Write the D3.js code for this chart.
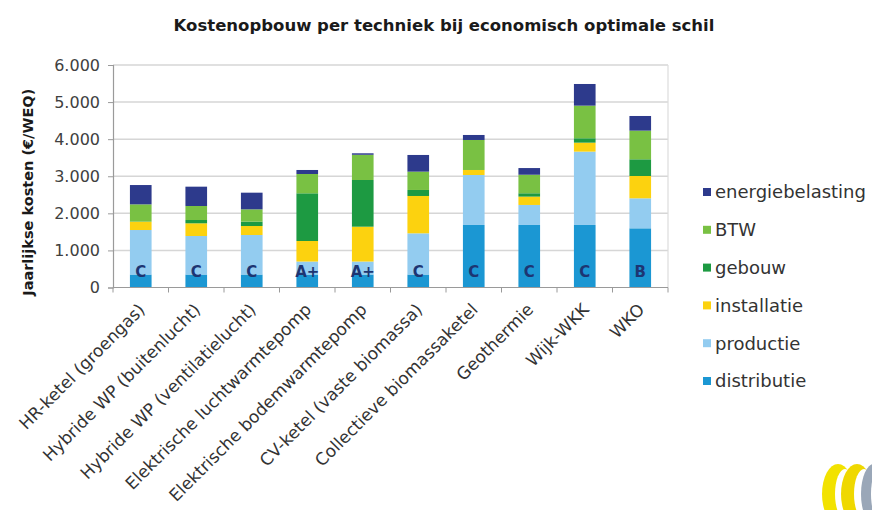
<!DOCTYPE html>
<html>
<head>
<meta charset="utf-8">
<script src="https://cdn.jsdelivr.net/npm/d3@7"></script>
<style>
  html, body { margin: 0; padding: 0; background: #ffffff; }
  svg { display: block; }
</style>
</head>
<body>
<script>
// Kostenopbouw per techniek — gestapelde kolommen (€/WEQ per jaar)
const categories = [
  "HR-ketel (groengas)",
  "Hybride WP (buitenlucht)",
  "Hybride WP (ventilatielucht)",
  "Elektrische luchtwarmtepomp",
  "Elektrische bodemwarmtepomp",
  "CV-ketel (vaste biomassa)",
  "Collectieve biomassaketel",
  "Geothermie",
  "Wijk-WKK",
  "WKO"
];
const distributie      = [350, 350, 350, 350, 350, 350, 1686, 1686, 1686, 1596];
const productie        = [1200, 1039, 1066, 350, 350, 1111, 1348, 540, 1978, 809];
const installatie      = [224, 342, 242, 554, 940, 1007, 135, 225, 242, 602];
const gebouw           = [0, 89, 117, 1286, 1259, 162, 0, 90, 118, 450];
const btw              = [468, 378, 333, 521, 680, 494, 809, 500, 880, 773];
const energiebelasting = [521, 521, 449, 108, 40, 450, 135, 180, 584, 395];
const energielabels    = ["C", "C", "C", "A+", "A+", "C", "C", "C", "C", "B"];
const yTicks           = [0, 1000, 2000, 3000, 4000, 5000, 6000];

// series from bottom to top of each column
const seriesNames  = ["distributie", "productie", "installatie", "gebouw", "BTW", "energiebelasting"];
const seriesValues = [distributie, productie, installatie, gebouw, btw, energiebelasting];
const seriesColors = ["#1b97d3", "#93ccf0", "#fcd20f", "#1d9a42", "#79c143", "#2d3a8c"];

const W = 872, H = 510;
const plotL = 113, plotR = 668, plotT = 65, plotB = 287.5;

const svg = d3.select("body").append("svg")
  .attr("width", W).attr("height", H)
  .style("font-family", "'DejaVu Sans', sans-serif");

const rows = categories.map((c, i) => {
  const r = { cat: c };
  seriesNames.forEach((s, k) => r[s] = seriesValues[k][i]);
  return r;
});

const x = d3.scaleBand().domain(categories).range([plotL, plotR]).padding(0);
const y = d3.scaleLinear().domain([0, 6000]).range([plotB, plotT]);
const color = d3.scaleOrdinal().domain(seriesNames).range(seriesColors);
const barW = x.bandwidth() * 0.39;

const nl = d3.formatLocale({ decimal: ",", thousands: ".", grouping: [3], currency: ["€", ""] });
const fmt = nl.format(",d");

// title
svg.append("text")
  .attr("x", 444).attr("y", 31)
  .attr("text-anchor", "middle")
  .style("font-size", "16.5px").style("font-weight", "bold").style("fill", "#1a1a1a")
  .text("Kostenopbouw per techniek bij economisch optimale schil");

// horizontal gridlines
svg.append("g").selectAll("line").data(yTicks.filter(t => t > 0)).join("line")
  .attr("x1", plotL).attr("x2", plotR)
  .attr("y1", d => y(d)).attr("y2", d => y(d))
  .attr("stroke", "#d6d6d6").attr("stroke-width", 1.5);

// right frame edge
svg.append("line")
  .attr("x1", plotR).attr("x2", plotR).attr("y1", y(6000)).attr("y2", y(0))
  .attr("stroke", "#dcdcdc").attr("stroke-width", 1.2);

// stacked columns
const stacked = d3.stack().keys(seriesNames)(rows);
svg.append("g").selectAll("g").data(stacked).join("g")
  .attr("fill", d => color(d.key))
  .selectAll("rect").data(d => d).join("rect")
  .attr("x", d => x(d.data.cat) + x.bandwidth() / 2 - barW / 2)
  .attr("width", barW)
  .attr("y", d => y(d[1]))
  .attr("height", d => Math.max(0, y(d[0]) - y(d[1])));

// energy label inside each column
svg.append("g").selectAll("text").data(categories).join("text")
  .attr("x", d => x(d) + x.bandwidth() / 2)
  .attr("y", 277)
  .attr("text-anchor", "middle")
  .style("font-size", "15px").style("font-weight", "bold").style("fill", "#1d3572")
  .text((d, i) => energielabels[i]);

// y axis
const yAxis = svg.append("g").attr("transform", `translate(${plotL},0)`)
  .call(d3.axisLeft(y).tickValues(yTicks).tickFormat(fmt).tickSize(5).tickPadding(8));
yAxis.select(".domain").attr("stroke", "#9a9a9a").attr("stroke-width", 1.2);
yAxis.selectAll(".tick line").attr("stroke", "#9a9a9a");
yAxis.selectAll(".tick text")
  .style("font-family", "'DejaVu Sans', sans-serif")
  .style("font-size", "16px").style("fill", "#404040");

// x axis: ticks between categories, rotated labels
const xAxis = svg.append("g").attr("transform", `translate(0,${plotB})`);
xAxis.append("line").attr("x1", plotL).attr("x2", plotR)
  .attr("stroke", "#9a9a9a").attr("stroke-width", 1.2);
xAxis.selectAll("line.tk").data(d3.range(categories.length + 1)).join("line")
  .attr("class", "tk")
  .attr("x1", i => plotL + i * x.step()).attr("x2", i => plotL + i * x.step())
  .attr("y1", 0).attr("y2", 5)
  .attr("stroke", "#9a9a9a");
xAxis.selectAll("text.lbl").data(categories).join("text")
  .attr("class", "lbl")
  .attr("transform", d => `translate(${x(d) + x.bandwidth() / 2 + 1},${19}) rotate(-45)`)
  .attr("text-anchor", "end")
  .attr("dy", "0.35em")
  .style("font-size", "17px").style("fill", "#333333")
  .text(d => d);

// y axis title
svg.append("text")
  .attr("transform", `translate(33,${(plotT + plotB) / 2 + 16}) rotate(-90)`)
  .attr("text-anchor", "middle")
  .style("font-size", "14.5px").style("font-weight", "bold").style("fill", "#1a1a1a")
  .text("Jaarlijkse kosten (€/WEQ)");

// legend, top entry is the top of the stack
const legendOrder = seriesNames.slice().reverse();
const lg = svg.append("g").selectAll("g").data(legendOrder).join("g")
  .attr("transform", (d, i) => `translate(703,${192 + i * 37.8})`);
lg.append("rect").attr("x", 0).attr("y", -4).attr("width", 8).attr("height", 8)
  .attr("fill", d => color(d));
lg.append("text").attr("x", 12).attr("y", 0).attr("dy", "0.35em")
  .style("font-size", "18px").style("fill", "#333333")
  .text(d => d);

// logo mark, bottom right
const logo = svg.append("g");
logo.append("ellipse").attr("cx", 838).attr("cy", 494).attr("rx", 16).attr("ry", 30).attr("fill", "#f2e200");
logo.append("ellipse").attr("cx", 845).attr("cy", 494).attr("rx", 10).attr("ry", 25).attr("fill", "#ffffff");
logo.append("ellipse").attr("cx", 857).attr("cy", 494).attr("rx", 16).attr("ry", 30).attr("fill", "#efd800");
logo.append("ellipse").attr("cx", 864).attr("cy", 494).attr("rx", 10).attr("ry", 25).attr("fill", "#ffffff");
logo.append("ellipse").attr("cx", 874).attr("cy", 494).attr("rx", 13).attr("ry", 30).attr("fill", "#9aa7b8");
logo.append("ellipse").attr("cx", 880).attr("cy", 494).attr("rx", 9).attr("ry", 26).attr("fill", "#ffffff");
</script>
</body>
</html>
